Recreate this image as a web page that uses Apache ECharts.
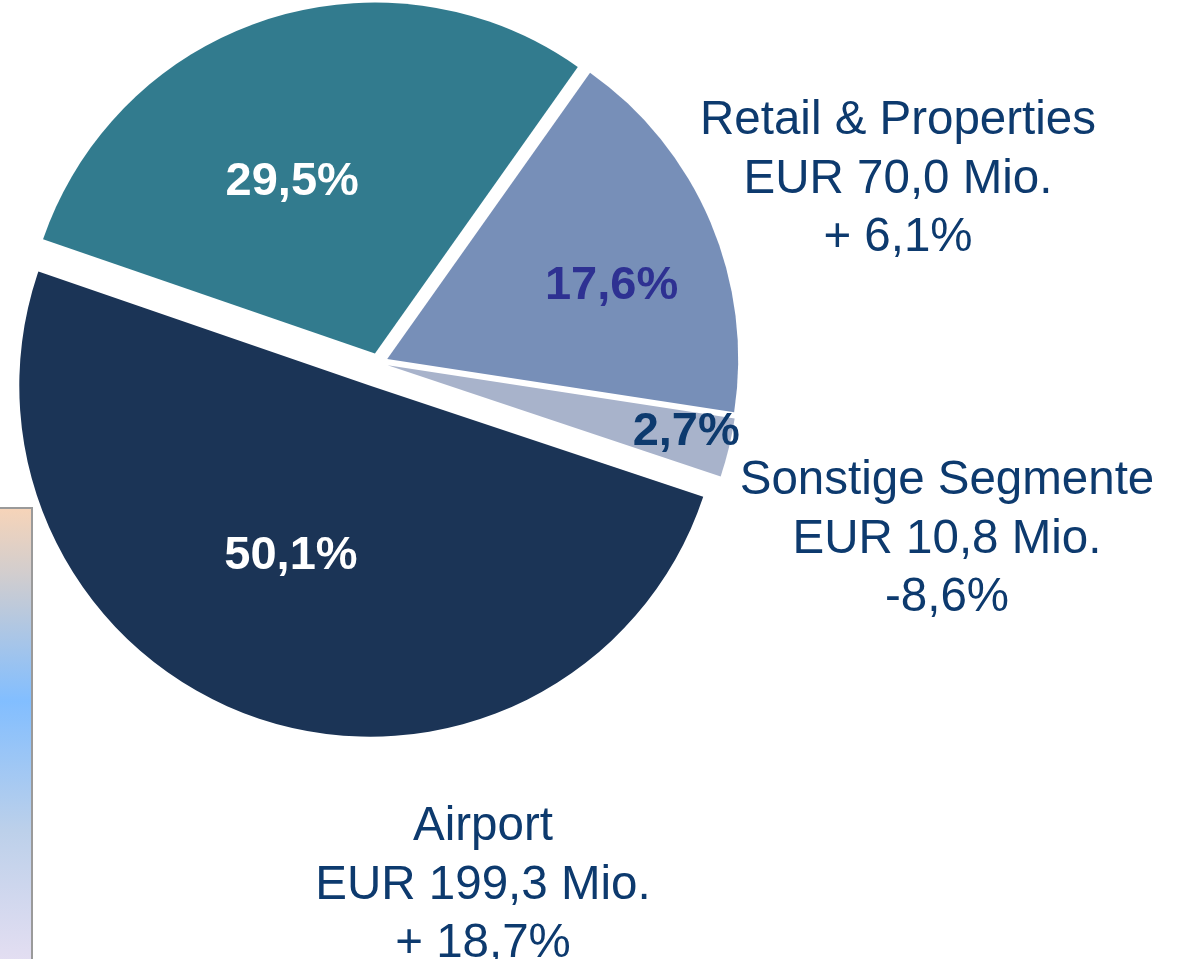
<!DOCTYPE html>
<html>
<head>
<meta charset="utf-8">
<title>Umsatz nach Segmenten</title>
<script src="https://cdn.jsdelivr.net/npm/echarts@6/dist/echarts.min.js"></script>
<style>
  html, body { margin: 0; padding: 0; background: #fff; }
  #segment_pie_con { width: 1178px; height: 959px; }
</style>
</head>
<body>
<div id="segment_pie_con"></div>
<script>
  // Segmente (im Uhrzeigersinn ab links oben)
  const segments = ['Handling', 'Retail & Properties', 'Sonstige Segmente', 'Airport'];
  const shares = [29.5, 17.6, 2.7, 50.1];          // Anteil in %
  const revenue = [null, 70.0, 10.8, 199.3];      // EUR Mio.
  const change = [null, 6.1, -8.6, 18.7];         // Veränderung in %

  const colors = ['#327b8e', '#778fb8', '#a8b3cb', '#1b3456'];
  const pctColors = ['#ffffff', '#2e3192', '#0d3a6e', '#ffffff'];
  const labelShift = [[-28, -2], [60, -3], [125, 25], [-22, 1]];
  const outerPos = [null, [898, 92], [947, 452], [483, 798]];

  const de = function (v) { return v.toFixed(1).replace('.', ','); };
  const font = "'Liberation Sans', Arial, sans-serif";

  let pie = echarts.init(document.getElementById('segment_pie_con'));

  // zwei Serien, weil Airport weiter herausgezogen ist als die anderen
  function buildData(onlyAirport) {
    return segments.map(function (name, i) {
      const show = onlyAirport ? i === 3 : i !== 3;
      return {
        name: name,
        value: shares[i],
        selected: show,
        itemStyle: { color: show ? colors[i] : 'rgba(0,0,0,0)' },
        label: { show: show, color: pctColors[i] }
      };
    });
  }

  const baseSeries = {
    type: 'pie',
    center: [378, 363],
    radius: [0, 351],
    startAngle: 161,
    clockwise: true,
    selectedMode: 'multiple',
    avoidLabelOverlap: false,
    silent: true,
    animation: false,
    label: {
      position: 'inside',
      fontFamily: font,
      fontWeight: 'bold',
      fontSize: 47,
      formatter: function (p) { return de(p.value) + '%'; }
    },
    labelLine: { show: false },
    labelLayout: function (p) {
      return { dx: labelShift[p.dataIndex][0], dy: labelShift[p.dataIndex][1] };
    }
  };

  const texts = [];
  segments.forEach(function (name, i) {
    if (!outerPos[i]) return;
    const sign = change[i] >= 0 ? '+ ' : '';
    texts.push({
      type: 'text',
      x: outerPos[i][0],
      y: outerPos[i][1],
      style: {
        text: name + '\nEUR ' + de(revenue[i]) + ' Mio.\n' + sign + de(change[i]) + '%',
        font: '47.5px ' + font,
        lineHeight: 58.5,
        fill: '#0d3a6e',
        align: 'center',
        verticalAlign: 'top'
      }
    });
  });

  const option = {
    backgroundColor: '#ffffff',
    graphic: [
      {
        type: 'rect',
        shape: { x: -2, y: 508, width: 34, height: 460 },
        style: {
          fill: {
            type: 'linear', x: 0, y: 0, x2: 0, y2: 1,
            colorStops: [
              { offset: 0, color: '#f7d4b8' },
              { offset: 0.15, color: '#d0cdcf' },
              { offset: 0.42, color: '#82beff' },
              { offset: 0.7, color: '#bcd0ea' },
              { offset: 1, color: '#e6dff2' }
            ]
          },
          stroke: '#9a9a9a',
          lineWidth: 2
        },
        z: 0
      }
    ].concat(texts),
    series: [
      Object.assign({}, baseSeries, { name: 'Segmente', selectedOffset: 10, data: buildData(false) }),
      Object.assign({}, baseSeries, { name: 'Airport', selectedOffset: 24, data: buildData(true) })
    ]
  };

  pie.setOption(option);

  window.addEventListener('resize', function () {
    pie.resize();
  });
</script>
</body>
</html>
